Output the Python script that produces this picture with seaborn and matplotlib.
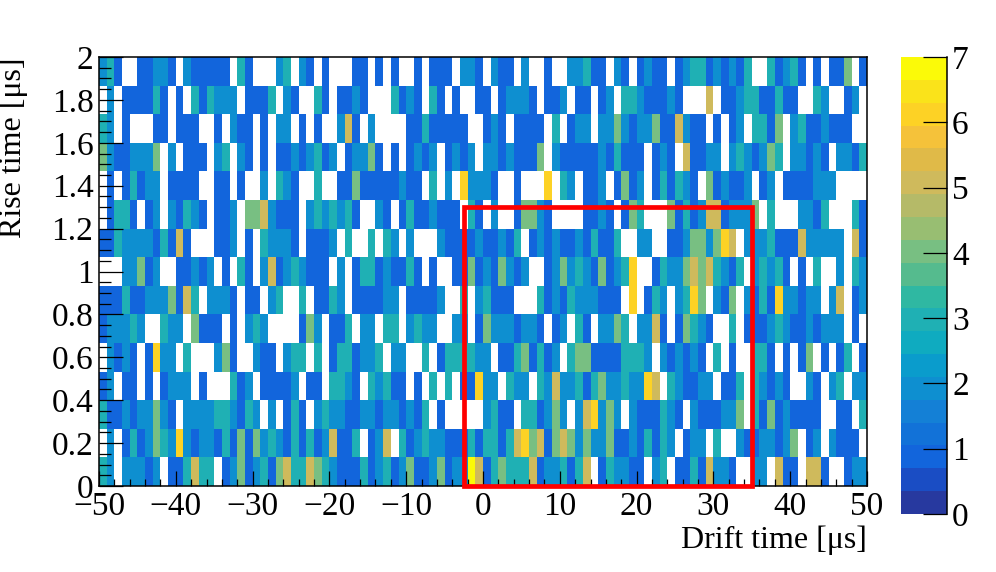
import numpy as np
import matplotlib
matplotlib.use('Agg')
import matplotlib.pyplot as plt
from matplotlib.colors import ListedColormap
from matplotlib.patches import Rectangle
import seaborn as sns

# counts per bin, one list per rise time row, bottom row first
row_00 = [3,2,0,2,2,2,1,2,0,1,1,3,5,3,3,0,1,2,4,1,2,3,1,4,5,3,3,5,4,3,2,1,1,1] + [3,1,2,3,1,2,4,1,1,2,4,1,2,2,7,5,1,3,4,3,3,3,5,1,2,2,3,1,3,5,0,1,3,2] + [2,1,1,0,2,3,0,1,1,3,1,5,2,2,1,0,0,2,2,0,5,1,1,0,5,5,1,0,0,1,2,2]
row_01 = [0,2,0,1,3,1,2,4,3,2,6,2,1,2,2,1,3,1,4,1,4,2,3,2,1,3,1,3,1,2,5,1,1,3] + [0,1,2,5,0,3,1,2,3,2,2,1,1,1,3,1,3,3,1,3,5,6,4,5,1,4,5,4,2,4,2,2,4,1] + [1,2,1,3,1,3,2,0,1,2,2,0,3,0,0,2,1,1,2,2,1,2,4,0,1,2,0,2,1,1,1,0]
row_02 = [3,1,1,2,1,2,2,4,2,1,0,2,2,2,2,3,3,2,1,3,2,0,2,0,1,3,1,0,2,3,2,2,1,1] + [2,2,1,2,2,1,2,1,3,0,1,0,0,0,0,0,2,3,1,1,0,3,3,1,2,4,2,0,2,5,6,2,4,2] + [0,2,1,1,1,3,2,1,0,2,1,1,1,2,2,4,0,3,1,4,1,2,1,1,1,1,0,0,1,1,0,3]
row_03 = [1,2,0,1,1,0,1,0,1,2,2,2,0,1,0,0,0,3,1,2,0,1,1,1,1,2,0,1,1,0,3,3,2,1] + [0,3,2,3,1,1,0,1,0,3,0,3,0,1,1,6,2,2,0,3,2,2,0,3,2,5,2,2,3,1,3,4,2,2] + [3,2,2,6,5,0,3,2,1,1,2,2,0,1,1,3,0,3,2,1,2,1,0,0,2,1,0,2,3,0,2,2]
row_04 = [0,2,1,2,1,0,1,6,2,2,0,3,0,0,0,2,4,1,0,0,2,1,1,0,2,3,3,0,3,0,1,3,3,1] + [2,2,3,0,2,2,0,0,3,0,1,3,3,3,3,2,2,0,1,1,3,4,1,3,1,2,0,3,4,4,1,1,1,1] + [3,3,3,2,0,2,1,2,1,2,1,0,3,0,1,0,0,3,3,1,0,1,0,1,4,0,1,0,1,3,0,1]
row_05 = [1,2,2,2,3,2,0,0,3,2,2,0,4,1,1,1,0,1,0,2,3,2,0,0,0,0,1,4,2,0,1,1,3,0] + [2,2,0,3,3,0,2,3,2,2,0,0,2,2,0,1,4,2,2,2,1,2,2,1,0,1,2,0,3,1,0,2,2,4] + [3,0,2,2,5,1,0,1,4,3,2,1,0,0,3,0,1,1,1,2,3,2,1,1,2,1,2,2,2,0,1,0]
row_06 = [1,1,1,3,1,1,2,2,2,4,1,5,3,0,2,2,2,1,0,1,1,0,2,3,0,0,3,0,1,1,3,2,0,1] + [1,1,1,2,2,0,1,1,1,1,2,0,0,3,0,2,3,1,1,1,0,0,0,3,1,2,1,3,2,2,2,1,1,1] + [0,6,0,1,3,2,0,2,3,6,4,0,2,1,4,0,2,1,3,1,6,2,2,1,2,2,0,2,5,0,1,2]
row_07 = [0,0,0,2,2,4,1,2,0,0,1,1,2,1,2,0,1,0,3,1,0,2,5,1,2,3,2,1,1,1,0,2,0,1] + [3,3,1,2,1,1,3,1,0,1,0,0,1,1,4,1,2,1,4,2,1,2,0,0,1,2,4,2,3,2,1,4,1,2] + [3,6,0,0,1,3,2,2,4,5,4,5,3,2,1,3,0,2,3,2,3,1,0,1,0,3,0,0,2,0,3,2]
row_08 = [1,1,3,2,2,2,2,1,3,1,5,1,0,0,0,1,1,2,0,1,0,3,2,2,2,1,0,1,1,1,2,0,3,0] + [0,3,0,3,2,0,2,0,0,0,2,1,1,1,1,2,1,1,2,1,3,0,1,2,1,2,1,1,2,1,3,1,1,3] + [0,0,2,2,0,0,1,1,2,4,4,2,4,6,5,0,2,2,2,3,1,1,1,5,2,2,2,2,2,0,5,1]
row_09 = [0,1,3,3,1,0,1,2,0,2,1,3,2,1,0,1,1,2,0,4,4,5,2,1,1,1,0,2,3,2,3,2,3,1] + [0,0,2,1,0,1,3,1,1,2,1,1,1,0,3,1,0,2,0,0,1,4,4,2,1,0,0,0,0,1,1,2,1,0] + [1,4,3,0,0,0,4,1,3,1,2,5,5,1,2,2,2,4,0,3,0,0,0,2,2,1,3,0,0,0,3,1]
row_10 = [0,1,0,1,3,1,2,2,0,1,1,1,1,0,0,1,1,0,1,0,0,2,0,3,2,1,0,0,3,0,0,1,1,4] + [1,1,1,1,1,2,1,1,0,3,0,2,0,6,2,2,2,1,0,0,1,0,0,0,6,0,3,2,0,1,1,2,0,1] + [4,1,2,0,1,3,1,3,2,1,0,4,1,2,1,1,2,0,1,2,0,1,1,1,1,2,2,2,0,0,0,0]
row_11 = [4,2,1,1,2,2,2,4,0,2,0,1,1,1,0,2,3,0,2,1,0,1,0,1,1,2,1,2,3,1,2,0,1,2] + [2,4,1,0,1,0,1,2,1,2,0,1,2,1,2,0,2,2,1,2,1,1,1,4,0,2,1,1,1,1,1,2,1,3] + [1,1,1,0,1,2,1,0,5,1,1,2,2,0,2,3,2,1,2,4,3,0,2,2,1,2,1,0,2,2,1,3]
row_12 = [3,2,0,1,0,0,0,1,1,0,1,1,1,0,0,1,0,2,1,1,0,1,0,2,2,0,1,0,1,0,0,2,5,1] + [0,2,0,0,0,0,1,1,3,1,1,1,1,1,0,0,1,2,1,0,1,1,1,1,0,3,0,1,2,2,0,2,2,4] + [2,1,2,2,4,1,1,5,2,1,1,0,1,0,1,2,0,3,3,1,4,0,2,3,1,1,2,1,1,1,0,0]
row_13 = [0,2,0,1,1,1,1,3,1,0,1,0,3,1,3,2,2,2,0,1,1,1,3,0,2,1,0,0,3,1,0,1,1,2] + [1,0,0,0,3,1,2,1,0,3,1,0,1,0,0,1,1,0,1,2,2,2,1,0,1,1,2,0,1,1,0,1,2,0] + [3,3,2,1,1,1,2,1,0,0,0,5,0,1,1,2,3,3,1,1,3,1,1,0,0,3,2,0,0,1,2,0]
row_14 = [2,3,1,0,0,1,1,2,2,1,0,2,1,1,1,1,1,0,3,1,0,0,0,2,3,0,2,1,0,1,0,0,0,1] + [1,0,1,0,1,0,0,1,0,1,1,1,0,2,2,1,0,2,1,1,0,2,0,0,1,0,0,2,2,3,1,1,0,2] + [1,0,1,2,1,1,0,1,2,3,3,1,2,1,2,1,3,0,0,3,1,2,3,1,0,1,0,1,1,4,0,1]

rows = [row_00, row_01, row_02, row_03, row_04, row_05, row_06, row_07,
        row_08, row_09, row_10, row_11, row_12, row_13, row_14]

x_labels = ['\u221250', '\u221240', '\u221230', '\u221220', '\u221210', '0', '10', '20', '30', '40', '50']
y_labels = ['0', '0.2', '0.4', '0.6', '0.8', '1', '1.2', '1.4', '1.6', '1.8', '2']
x_range = (-50, 50)
y_range = (0, 2)
box_x = (-2.5, 35)
box_y = (0, 1.3)

palette = ['#27399f', '#1a4dc4', '#1265dc', '#1272d8', '#1480d6', '#0e8fd0', '#0a9ccc',
           '#0fabc0', '#1fb0b4', '#2fb8a2', '#55bb8e', '#78bf82', '#98be72', '#b5ba68',
           '#cfba5c', '#e0ba48', '#f5c23a', '#fdd225', '#fae31a', '#fbfa08']

sns.set_theme(style='white')
plt.rcParams['font.family'] = ['Liberation Serif', 'DejaVu Serif']

data = np.array(rows)
n_y, n_x = data.shape
W, H = 996, 572


def to_bin_x(v):
    return (np.asarray(v) - x_range[0]) / (x_range[1] - x_range[0]) * n_x


def to_bin_y(v):
    return (np.asarray(v) - y_range[0]) / (y_range[1] - y_range[0]) * n_y


fig = plt.figure(figsize=(W / 100, H / 100), dpi=100)
ax = fig.add_axes([99 / W, (H - 486) / H, 768 / W, 429 / H])
cax = fig.add_axes([901 / W, (H - 514) / H, 45.5 / W, 457 / H])

sns.heatmap(data, mask=data == 0, cmap=ListedColormap(palette), vmin=0, vmax=7,
            ax=ax, cbar_ax=cax, cbar_kws={'ticks': range(8)}, linewidths=0)
ax.invert_yaxis()
ax.set_axisbelow(False)

# ROOT style axes
for side in ['left', 'right', 'top', 'bottom']:
    ax.spines[side].set_visible(True)
    ax.spines[side].set_color('black')
    ax.spines[side].set_linewidth(1.1)

ax.set_xticks(to_bin_x(np.arange(-50, 51, 10)))
ax.set_xticklabels(x_labels, rotation=0, fontsize=24)
ax.set_xticks(to_bin_x(np.arange(-50, 51, 2)), minor=True)
ax.set_yticks(to_bin_y(np.arange(0, 2.01, 0.2)))
ax.set_yticklabels(y_labels, rotation=0, fontsize=24, va='center_baseline')
ax.set_yticks(to_bin_y(np.arange(0, 2.01, 0.05)), minor=True)
ax.tick_params(axis='x', which='major', direction='in', length=10.8, width=0.9, color='black', labelcolor='black', pad=4, bottom=True)
ax.tick_params(axis='x', which='minor', direction='in', length=5, width=0.9, color='black', bottom=True)
ax.tick_params(axis='y', which='major', direction='in', length=17, width=0.9, color='black', labelcolor='black', pad=4, left=True)
ax.tick_params(axis='y', which='minor', direction='in', length=8.6, width=0.9, color='black', left=True)

ax.set_xlabel('Drift time [\u03bcs]', loc='right', fontsize=23, color='black')
ax.set_ylabel('Rise time [\u03bcs]', loc='top', fontsize=23, color='black')
ax.xaxis.set_label_coords(1, -0.092)
ax.yaxis.set_label_coords(-0.093, 1)

# selection box
x0, x1 = to_bin_x(box_x)
y0, y1 = to_bin_y(box_y)
ax.add_patch(Rectangle((x0, y0), x1 - x0, y1 - y0, fill=False, edgecolor='#ff0000',
                       linewidth=3.4, clip_on=False, zorder=5))

# colour bar, only right edge and inward ticks
cbar = ax.collections[0].colorbar
cbar.outline.set_visible(False)
cax.set_axisbelow(False)
cax.spines['right'].set_visible(True)
cax.spines['right'].set_color('black')
cax.spines['right'].set_linewidth(1.1)
cax.tick_params(axis='y', which='major', direction='in', length=17, width=0.9, color='black', labelcolor='black', labelsize=24, pad=4, right=True)

fig.savefig('out.png', dpi=100)
